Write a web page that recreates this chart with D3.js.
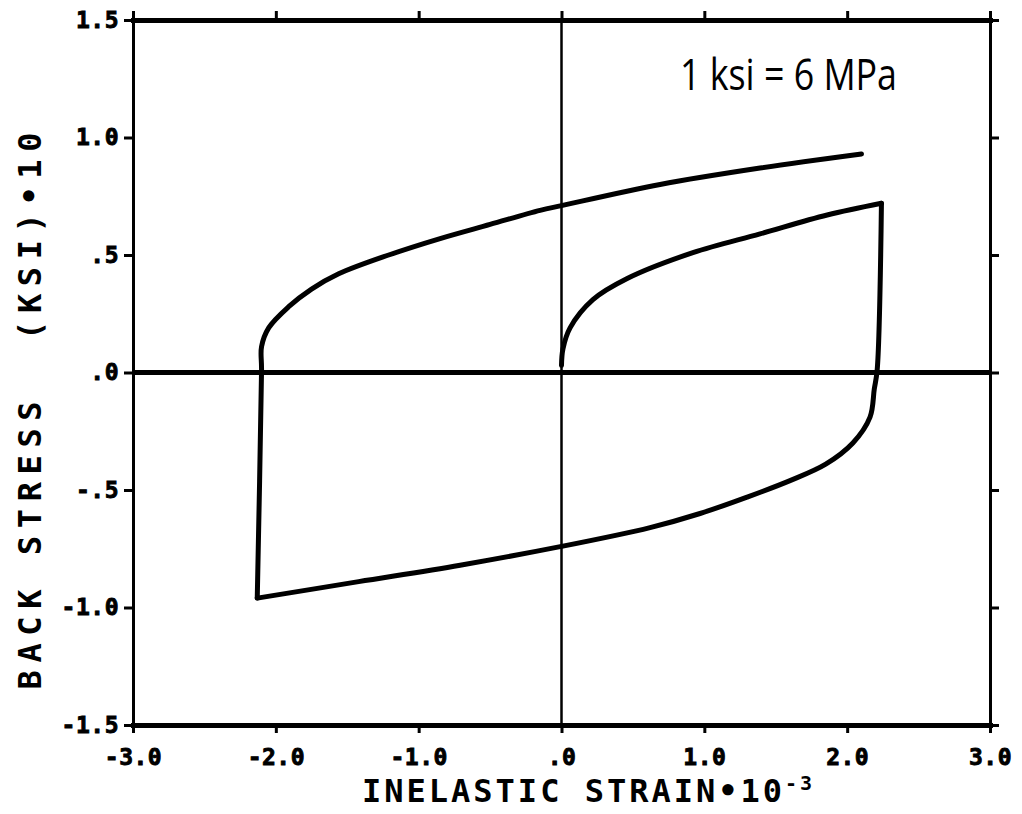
<!DOCTYPE html>
<html>
<head>
<meta charset="utf-8">
<script src="https://cdn.jsdelivr.net/npm/d3@7"></script>
<style>
  body { margin: 0; background: #fff; }
  svg { display: block; }
</style>
</head>
<body>
<div id="chart"></div>
<script>
// tick values and labels
const xTicks = [-3, -2, -1, 0, 1, 2, 3];
const xTickLabels = ["-3.0", "-2.0", "-1.0", ".0", "1.0", "2.0", "3.0"];
const yTicks = [-1.5, -1.0, -0.5, 0, 0.5, 1.0, 1.5];
const yTickLabels = ["-1.5", "-1.0", "-.5", ".0", ".5", "1.0", "1.5"];

// initial loading from the origin  [strain, back stress]
const loading = [
    [0.00, 0.03], [0.01, 0.10], [0.06, 0.19], [0.22, 0.31], [0.46, 0.40],
    [0.92, 0.51], [1.39, 0.59], [1.86, 0.67], [2.24, 0.72]
];
// reversal: drop at max strain then the lower branch
const unloading = [
    [2.24, 0.72], [2.21, 0.01], [2.19, -0.07], [2.16, -0.19], [2.04, -0.30],
    [1.85, -0.39], [1.60, -0.46], [1.30, -0.53], [0.97, -0.60], [0.62, -0.66],
    [0.00, -0.74], [-0.71, -0.82], [-1.42, -0.89], [-2.13, -0.96]
];
// second reversal: rise at min strain then the upper branch
const reloading = [
    [-2.13, -0.96], [-2.10, 0.01], [-2.10, 0.11], [-2.05, 0.19], [-1.91, 0.28],
    [-1.75, 0.355], [-1.56, 0.42], [-1.21, 0.50], [-0.85, 0.57], [-0.50, 0.63],
    [-0.15, 0.69], [0.00, 0.71], [0.69, 0.80], [1.39, 0.87], [2.10, 0.93]
];

const width = 1022, height = 814;
const plot = {left: 133, right: 990, top: 20, bottom: 725};

const svg = d3.select("#chart").append("svg")
    .attr("width", width)
    .attr("height", height);

const x = d3.scaleLinear().domain([-3, 3]).range([plot.left, plot.right]);
const y = d3.scaleLinear().domain([-1.5, 1.5]).range([plot.bottom, plot.top]);

const monoFont = "'DejaVu Sans Mono', 'Liberation Mono', monospace";

// axes (ticks pointing outward on all four sides)
const xAxisBottom = d3.axisBottom(x).tickValues(xTicks).tickSize(8).tickSizeOuter(0)
    .tickPadding(16).tickFormat((d, i) => xTickLabels[i]);
const xAxisTop = d3.axisTop(x).tickValues(xTicks).tickSize(9).tickSizeOuter(0).tickFormat("");
const yAxisLeft = d3.axisLeft(y).tickValues(yTicks).tickSize(9).tickSizeOuter(0)
    .tickPadding(5).tickFormat((d, i) => yTickLabels[i]);
const yAxisRight = d3.axisRight(y).tickValues(yTicks).tickSize(9).tickSizeOuter(0).tickFormat("");

function styleAxis(g, domainWidth, tickWidth) {
    g.select(".domain").attr("stroke", "#000").attr("stroke-width", domainWidth)
        .attr("stroke-linecap", "square");
    g.selectAll(".tick line").attr("stroke", "#000").attr("stroke-width", tickWidth);
    g.selectAll(".tick text")
        .attr("fill", "#000")
        .attr("stroke", "#000")
        .attr("stroke-width", 0.9)
        .attr("font-family", monoFont)
        .attr("font-weight", "bold")
        .attr("font-size", 23)
        .attr("letter-spacing", 0.5);
}

svg.append("g").attr("transform", `translate(0,${plot.bottom})`).call(xAxisBottom)
    .call(g => styleAxis(g, 5, 3));
svg.append("g").attr("transform", `translate(0,${plot.top})`).call(xAxisTop)
    .call(g => styleAxis(g, 5, 3));
svg.append("g").attr("transform", `translate(${plot.left},0)`).call(yAxisLeft)
    .call(g => styleAxis(g, 3, 3));
svg.append("g").attr("transform", `translate(${plot.right},0)`).call(yAxisRight)
    .call(g => styleAxis(g, 3, 3));

// zero lines
svg.append("line")
    .attr("x1", x(-3)).attr("x2", x(3))
    .attr("y1", y(0)).attr("y2", y(0))
    .attr("stroke", "#000").attr("stroke-width", 5);
svg.append("line")
    .attr("x1", x(0)).attr("x2", x(0))
    .attr("y1", y(1.5)).attr("y2", y(-1.5))
    .attr("stroke", "#000").attr("stroke-width", 2.5);

// hysteresis loop
const line = d3.line()
    .x(d => x(d[0]))
    .y(d => y(d[1]))
    .curve(d3.curveCatmullRom.alpha(0.5));

[loading, unloading, reloading].forEach(series => {
    svg.append("path")
        .datum(series)
        .attr("d", line)
        .attr("fill", "none")
        .attr("stroke", "#000")
        .attr("stroke-width", 5)
        .attr("stroke-linecap", "round")
        .attr("stroke-linejoin", "round");
});

// axis titles
const xTitle = svg.append("text")
    .attr("x", 362)
    .attr("y", 802)
    .attr("font-family", monoFont)
    .attr("font-weight", "bold")
    .attr("font-size", 32)
    .attr("letter-spacing", 3)
    .attr("fill", "#000");
xTitle.append("tspan").text("INELASTIC STRAIN\u202210");
xTitle.append("tspan")
    .attr("dy", -12)
    .attr("font-size", 20)
    .text("-3");

svg.append("text")
    .attr("transform", "translate(41,411) rotate(-90)")
    .attr("text-anchor", "middle")
    .attr("font-family", monoFont)
    .attr("font-weight", "bold")
    .attr("font-size", 32)
    .attr("textLength", 557)
    .attr("lengthAdjust", "spacing")
    .attr("fill", "#000")
    .attr("xml:space", "preserve")
    .text("BACK STRESS  (KSI)\u202210");

// conversion note
svg.append("text")
    .attr("x", 680)
    .attr("y", 90)
    .attr("font-family", "'Open Sans', 'Noto Sans', sans-serif")
    .attr("font-size", 44)
    .attr("textLength", 217)
    .attr("lengthAdjust", "spacingAndGlyphs")
    .attr("fill", "#000")
    .text("1 ksi = 6 MPa");
</script>
</body>
</html>
